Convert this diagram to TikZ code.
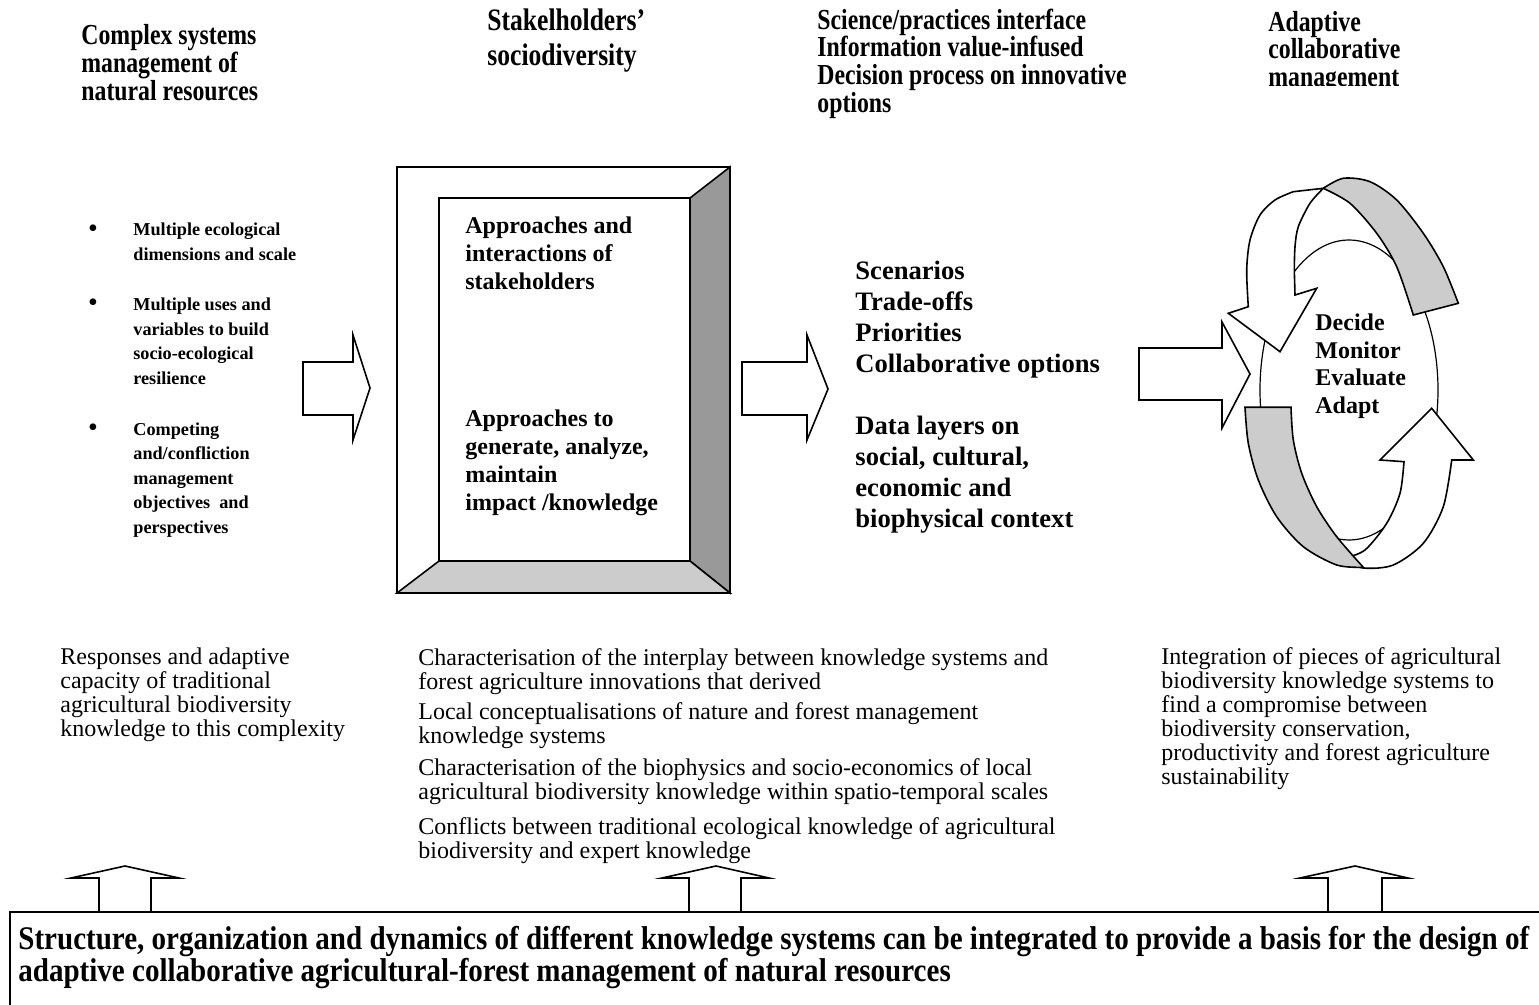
\documentclass[tikz,border=0pt]{standalone}
\usepackage{fontspec}
\setmainfont{Liberation Serif}
\newfontfamily\headingfont{Liberation Serif}[FakeStretch=0.82]
\newfontfamily\bannerfont{Liberation Serif}[FakeStretch=0.88]
\usepackage{xcolor}
\usetikzlibrary{calc}

\definecolor{bevelgray}{HTML}{999999}
\definecolor{lightbevel}{HTML}{CCCCCC}
\definecolor{ribbongray}{HTML}{CCCCCC}

\tikzset{
  outline/.style={draw=black, line width=0.8pt, line join=miter},
  thinline/.style={draw=black, line width=0.6pt},
  blockarrow/.style={outline, fill=white},
  txt/.style={anchor=west, inner sep=0pt, align=left},
  heading/.style={txt, font=\headingfont\bfseries\fontsize{14.5}{13.85}\selectfont},
  bulletitem/.style={txt, font=\bfseries\fontsize{9.1}{12.25}\selectfont},
  bulletdot/.style={anchor=center, inner sep=0pt, font=\fontsize{14}{14}\selectfont},
  boxitem/.style={txt, font=\bfseries\fontsize{12}{14}\selectfont},
  listitem/.style={txt, font=\bfseries\fontsize{13.3}{15.5}\selectfont},
  plainitem/.style={txt, font=\fontsize{12}{12}\selectfont},
}

\begin{document}
\begin{tikzpicture}[x=0.5pt, y=-0.5pt]

\useasboundingbox (0,0) rectangle (1539,1005);
\clip (0,0) rectangle (1539,1005);

% column headings
\node [heading] (complexhead) at (81,62.5) {Complex systems\\management of\\natural resources};
\node [heading, font=\headingfont\bfseries\fontsize{15.6}{17.5}\selectfont] (stakehead) at (487,40.5) {Stakelholders’\\sociodiversity};
\node [heading] (sciencehead) at (817,63.5) {Science/practices interface\\Information value-infused\\Decision process on innovative\\options};
\begin{scope}
\clip (1250,0) rectangle (1420,86);
\node [heading] (adapthead) at (1268,52) {Adaptive\\collaborative\\management};
\end{scope}

% left column
\node [bulletitem] (bulletA) at (133,242) {Multiple ecological\\dimensions and scale};
\node [bulletitem] (bulletB) at (133,341.5) {Multiple uses and\\variables to build\\socio-ecological\\resilience};
\node [bulletitem] (bulletC) at (133,480) {Competing\\and/confliction\\management\\objectives\ \ and\\perspectives};
\node [bulletdot] (dotA) at (93,231) {\textbullet};
\node [bulletdot] (dotB) at (93,305) {\textbullet};
\node [bulletdot] (dotC) at (93,430) {\textbullet};

\draw [blockarrow] (303,362) -- (353,362) -- (353,335) -- (370,388) -- (353,440) -- (353,415) -- (303,415) -- cycle;

% bevelled box
\coordinate (outerNW) at (397,167);
\coordinate (outerSE) at (730,593);
\coordinate (innerNW) at (439,198);
\coordinate (innerSE) at (690,561);
\draw [outline, fill=white] (outerNW) rectangle (outerSE);
\draw [outline, fill=bevelgray] (innerSE |- innerNW) -- (outerSE |- outerNW) -- (outerSE) -- (innerSE) -- cycle;
\draw [outline, fill=lightbevel] (innerNW |- innerSE) -- (innerSE) -- (outerSE) -- (outerNW |- outerSE) -- cycle;
\draw [outline] (innerNW) rectangle (innerSE);
\node [boxitem] (approachA) at (465,253) {Approaches and\\interactions of\\stakeholders};
\node [boxitem] (approachB) at (465,463) {Approaches to\\generate, analyze,\\maintain\\impact /knowledge};

\draw [blockarrow] (742,362) -- (807,362) -- (807,335) -- (828,389) -- (807,440) -- (807,415) -- (742,415) -- cycle;

\node [listitem] (options) at (855,397.5) {Scenarios\\Trade-offs\\Priorities\\Collaborative options\\[15.5pt]Data layers on\\social, cultural,\\economic and\\biophysical context};

\draw [blockarrow] (1139,348) -- (1222,348) -- (1222,322) -- (1250,374) -- (1222,428) -- (1222,400) -- (1139,400) -- cycle;

% adaptive cycle
\draw [thinline] (1349,390) ellipse [x radius=89, y radius=150];
\filldraw [outline, fill=white] (1228.3,313.3) -- (1248.3,306.7)
  -- plot [smooth] coordinates {(1248.3,306.7) (1246.7,270) (1250,240) (1260,215) (1275,200) (1293.3,191.7)}
  -- (1323.3,188.3)
  -- plot [smooth] coordinates {(1323.3,188.3) (1310,203.3) (1298.3,226.7) (1295,246.7) (1294.3,270)}
  -- (1295,295) -- (1316.7,288.3) -- (1280,351.7) -- cycle;
\filldraw [outline, fill=ribbongray]
  plot [smooth] coordinates {(1323.3,188.3) (1343.3,178.3) (1370,181.7) (1396.7,200) (1423.3,233.3) (1443.3,266.7) (1458.3,303.3)}
  -- (1413.3,315)
  -- plot [smooth] coordinates {(1413.3,315) (1396.7,266.7) (1376.7,233.3) (1350,203.3) (1323.3,188.3)} -- cycle;
\filldraw [outline, fill=white]
  plot [smooth] coordinates {(1340,560) (1363.3,568) (1393.3,565) (1423.3,543.3) (1443.3,506.7) (1451.7,460)}
  -- (1473.3,460) -- (1431.7,408.3) -- (1380,460) -- (1404,461.7)
  -- plot [smooth] coordinates {(1404,461.7) (1400,493.3) (1386.7,523.3) (1365,550) (1345,558)} -- cycle;
\filldraw [outline, fill=ribbongray] (1245,407.3) -- (1291,407.3)
  -- plot [smooth] coordinates {(1291,407.3) (1293.3,440) (1301.7,473.3) (1316.7,506.7) (1336.7,536.7) (1363.3,567.3)}
  -- plot [smooth] coordinates {(1363.3,567.3) (1336.7,565) (1303.3,546.7) (1276.7,516.7) (1258.3,480) (1248.3,443.3) (1245,407.3)} -- cycle;
\node [boxitem, font=\bfseries\fontsize{12}{13.75}\selectfont] (cycletext) at (1315,366) {Decide\\Monitor\\Evaluate\\Adapt};

% lower texts
\node [plainitem] (responses) at (60,695) {Responses and adaptive\\capacity of traditional\\agricultural biodiversity\\knowledge to this complexity};
\node [plainitem] (interplay) at (418,756.5) {Characterisation of the interplay between knowledge systems and\\forest agriculture innovations that derived\\[3pt]Local conceptualisations of nature and forest management\\knowledge systems\\[4pt]Characterisation of the biophysics and socio-economics of local\\agricultural biodiversity knowledge within spatio-temporal scales\\[5.5pt]Conflicts between traditional ecological knowledge of agricultural\\biodiversity and expert knowledge};
\node [plainitem] (integration) at (1161,719) {Integration of pieces of agricultural\\biodiversity knowledge systems to\\find a compromise between\\biodiversity conservation,\\productivity and forest agriculture\\sustainability};

% up arrows and base box
\draw [blockarrow] (99,912) -- (99,878) -- (71,878) -- (125,866) -- (179,878) -- (151,878) -- (151,912) -- cycle;
\draw [blockarrow] (689,912) -- (689,878) -- (662,878) -- (716,866) -- (769,878) -- (741,878) -- (741,912) -- cycle;
\draw [blockarrow] (1328,912) -- (1328,878) -- (1300,878) -- (1355,866) -- (1408,878) -- (1382,878) -- (1382,912) -- cycle;
\draw [outline, line width=1pt] (10,1020) -- (10,912) -- (1560,912);
\node [txt, font=\bannerfont\bfseries\fontsize{16.5}{15}\selectfont] (basis) at (18,957.5) {Structure, organization and dynamics of different knowledge systems can be integrated to provide a basis for the design of\\adaptive collaborative agricultural-forest management of natural resources};

\end{tikzpicture}
\end{document}
